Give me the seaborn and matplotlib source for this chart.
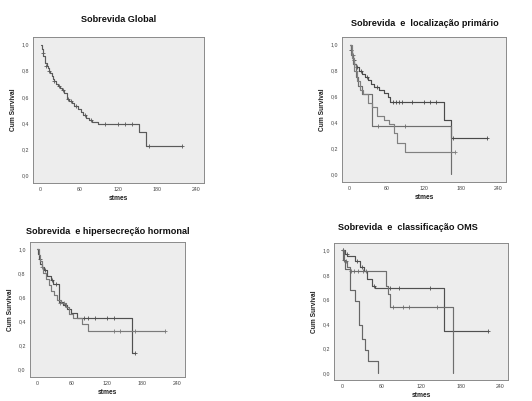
"""
Kaplan-Meier survival curves, four panels (global, primary site,
hormonal hypersecretion, WHO classification).
"""

import numpy as np
import pandas as pd
import matplotlib
matplotlib.use("Agg")
import matplotlib.pyplot as plt
import seaborn as sns

# ---------------------------------------------------------------------------
# Data (months, cumulative survival)
# ---------------------------------------------------------------------------
# Panel 1 - global survival
glob_t = [0, 2, 3, 4, 6, 7, 9, 11, 13, 15, 17, 19, 21, 24, 27, 30, 33, 36,
          40, 44, 48, 52, 57, 62, 66, 70, 75, 80, 88, 152, 163, 219]
glob_s = [1.0, 0.97, 0.94, 0.91, 0.88, 0.86, 0.84, 0.82, 0.80, 0.78, 0.76,
          0.74, 0.72, 0.70, 0.68, 0.67, 0.65, 0.63, 0.58, 0.57, 0.55, 0.53,
          0.51, 0.48, 0.46, 0.44, 0.42, 0.41, 0.39, 0.33, 0.22, 0.22]
glob_ct = [3, 8, 12, 20, 28, 34, 42, 46, 55, 68, 78, 100, 119, 131, 141, 167, 219]
glob_cs = [0.94, 0.84, 0.80, 0.72, 0.68, 0.65, 0.58, 0.57, 0.53, 0.46, 0.42,
           0.39, 0.39, 0.39, 0.39, 0.22, 0.22]

# Panel 2 - primary site (three groups)
loc_a_t = [0, 2, 4, 6, 8, 11, 15, 20, 25, 30, 35, 40, 48, 55, 62, 65, 153, 164, 221]
loc_a_s = [1.0, 0.96, 0.92, 0.88, 0.85, 0.83, 0.80, 0.77, 0.75, 0.73, 0.70,
           0.67, 0.65, 0.63, 0.60, 0.56, 0.42, 0.28, 0.28]
loc_a_ct = [3, 7, 12, 18, 28, 44, 70, 75, 80, 85, 100, 120, 130, 140, 167, 221]
loc_a_cs = [0.96, 0.88, 0.83, 0.80, 0.75, 0.67, 0.56, 0.56, 0.56, 0.56, 0.56,
            0.56, 0.56, 0.56, 0.28, 0.28]

loc_b_t = [0, 3, 6, 10, 14, 20, 36, 164]
loc_b_s = [1.0, 0.92, 0.85, 0.75, 0.68, 0.62, 0.37, 0.0]
loc_b_ct = [5, 46, 90]
loc_b_cs = [0.92, 0.37, 0.37]

loc_c_t = [0, 4, 8, 12, 17, 22, 30, 37, 45, 55, 64, 72, 76, 89, 170]
loc_c_s = [1.0, 0.90, 0.80, 0.72, 0.65, 0.62, 0.55, 0.52, 0.45, 0.42, 0.39,
           0.32, 0.245, 0.17, 0.17]
loc_c_ct = [10, 170]
loc_c_cs = [0.80, 0.17]

# Panel 3 - hormonal hypersecretion (two groups)
hor_a_t = [0, 2, 4, 6, 9, 12, 18, 24, 28, 37, 45, 52, 58, 68, 162, 167]
hor_a_s = [1.0, 0.96, 0.92, 0.88, 0.85, 0.83, 0.78, 0.74, 0.71, 0.56, 0.54,
           0.50, 0.47, 0.43, 0.14, 0.14]
hor_a_ct = [5, 14, 26, 33, 48, 80, 88, 100, 120, 131, 167]
hor_a_cs = [0.92, 0.83, 0.74, 0.71, 0.54, 0.43, 0.43, 0.43, 0.43, 0.43, 0.14]

hor_b_t = [0, 3, 5, 8, 11, 15, 20, 25, 30, 35, 42, 50, 55, 62, 77, 88, 218]
hor_b_s = [1.0, 0.95, 0.90, 0.85, 0.80, 0.75, 0.70, 0.65, 0.62, 0.58, 0.55,
           0.52, 0.46, 0.43, 0.38, 0.32, 0.32]
hor_b_ct = [9, 40, 46, 131, 141, 168, 218]
hor_b_cs = [0.85, 0.55, 0.55, 0.32, 0.32, 0.32, 0.32]

# Panel 4 - WHO classification (three groups)
oms_a_t = [0, 2, 5, 12, 20, 26, 31, 35, 39, 54]
oms_a_s = [1.0, 0.92, 0.85, 0.68, 0.59, 0.39, 0.28, 0.19, 0.095, 0.0]
oms_a_ct = [3]
oms_a_cs = [0.92]

oms_b_t = [0, 5, 8, 20, 28, 33, 38, 45, 50, 155, 221]
oms_b_s = [1.0, 0.97, 0.95, 0.91, 0.86, 0.83, 0.77, 0.71, 0.69, 0.34, 0.34]
oms_b_ct = [2, 7, 22, 30, 48, 73, 86, 133, 221]
oms_b_cs = [1.0, 0.97, 0.91, 0.86, 0.71, 0.69, 0.69, 0.69, 0.34]

oms_c_t = [0, 3, 8, 12, 67, 70, 73, 168]
oms_c_s = [1.0, 0.91, 0.86, 0.83, 0.71, 0.64, 0.54, 0.0]
oms_c_ct = [1, 6, 14, 18, 25, 32, 36, 78, 92, 101, 144]
oms_c_cs = [1.0, 0.91, 0.83, 0.83, 0.83, 0.83, 0.83, 0.54, 0.54, 0.54, 0.54]

# ---------------------------------------------------------------------------
# Plot
# ---------------------------------------------------------------------------
sns.set_style("white")
plt.rcParams["font.family"] = ["Liberation Sans Narrow", "Liberation Sans", "DejaVu Sans"]

fig = plt.figure(figsize=(5.32, 4.01), dpi=100)
fig.patch.set_facecolor("white")

panels = [
    ("Sobrevida Global", [0.062, 0.544, 0.321, 0.364], (119, 19),
     [(glob_t, glob_s, glob_ct, glob_cs, "#5a5a5a")]),
    ("Sobrevida  e  localização primário", [0.643, 0.546, 0.308, 0.362], (425, 24),
     [(loc_a_t, loc_a_s, loc_a_ct, loc_a_cs, "#4a4a4a"),
      (loc_b_t, loc_b_s, loc_b_ct, loc_b_cs, "#6e6e6e"),
      (loc_c_t, loc_c_s, loc_c_ct, loc_c_cs, "#808080")]),
    ("Sobrevida  e hipersecreção hormonal", [0.056, 0.060, 0.291, 0.337], (108, 231),
     [(hor_a_t, hor_a_s, hor_a_ct, hor_a_cs, "#505050"),
      (hor_b_t, hor_b_s, hor_b_ct, hor_b_cs, "#7a7a7a")]),
    ("Sobrevida  e  classificação OMS", [0.628, 0.052, 0.327, 0.342], (408, 228),
     [(oms_a_t, oms_a_s, oms_a_ct, oms_a_cs, "#666666"),
      (oms_b_t, oms_b_s, oms_b_ct, oms_b_cs, "#505050"),
      (oms_c_t, oms_c_s, oms_c_ct, oms_c_cs, "#6e6e6e")]),
]

for title, rect, (tx, ty), curves in panels:
    ax = fig.add_axes(rect)
    ax.set_facecolor("#ededed")
    for t, s, ct, cs, col in curves:
        sns.lineplot(x=t, y=s, drawstyle="steps-post", estimator=None,
                     color=col, linewidth=0.85, ax=ax)
        sns.scatterplot(x=ct, y=cs, marker="+", s=10, color=col,
                        linewidth=0.6, ax=ax)
    ax.set_xlim(-12, 252)
    ax.set_ylim(-0.06, 1.06)
    ax.set_xticks([0, 60, 120, 180, 240])
    ax.set_xticklabels(["0", "60", "120", "180", "240"])
    ax.set_yticks([0, 0.2, 0.4, 0.6, 0.8, 1.0])
    ax.set_yticklabels(["0,0", "0,2", "0,4", "0,6", "0,8", "1,0"])
    ax.tick_params(labelsize=3.8, length=1.8, width=0.4, pad=1.2,
                   colors="#444444")
    for sp in ax.spines.values():
        sp.set_color("#8a8a8a")
        sp.set_linewidth(0.7)
    ax.set_xlabel("stmes", fontsize=4.8, fontweight="bold", labelpad=2,
                  color="#222222")
    ax.set_ylabel("Cum Survival", fontsize=4.8, fontweight="bold", labelpad=3,
                  color="#222222")
    fig.text(tx / 532, 1 - ty / 401, title, ha="center", va="center",
             fontsize=6.6, fontweight="bold", color="#111111")

plt.savefig("out.png", dpi=100)
